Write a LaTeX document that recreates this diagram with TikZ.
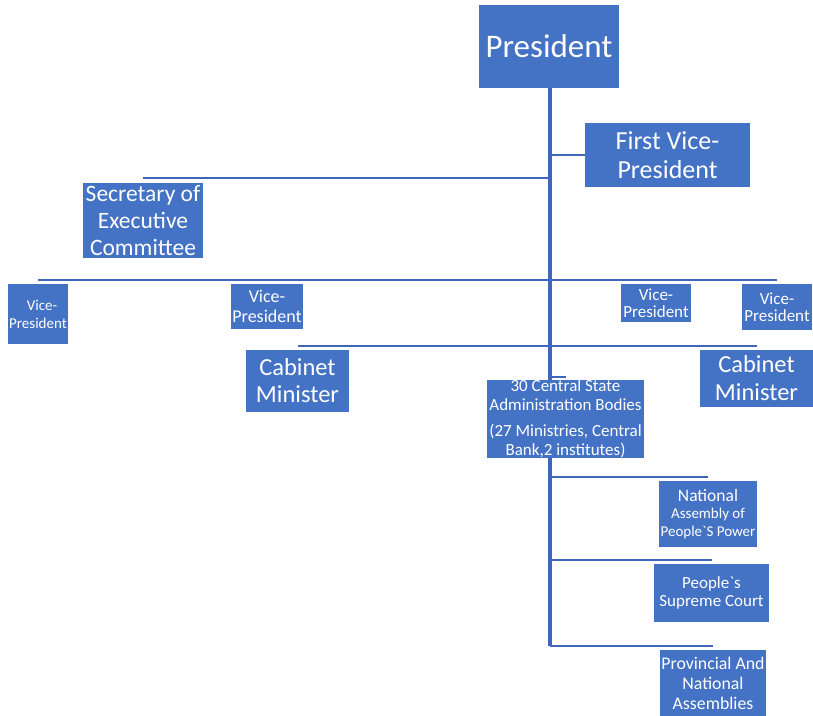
\documentclass[tikz,border=0pt]{standalone}
\usepackage{fontspec}
\setmainfont{Carlito}
\usetikzlibrary{backgrounds}
\definecolor{orgblue}{HTML}{4472C4}
\definecolor{linkblue}{HTML}{3F66BA}
\newcommand{\fs}[2]{\fontsize{#1}{#2}\selectfont}

\begin{document}
\begin{tikzpicture}[x=1pt,y=-1pt,
  box/.style={fill=orgblue, text=white, align=center, inner sep=0pt},
  link/.style={draw=linkblue, line width=2.6pt},
  trunk/.style={draw=linkblue, line width=3.2pt}]
\useasboundingbox (0,0) rectangle (813,715);

% boxes of the chart
\node[box, minimum width=140pt, minimum height=83pt, font=\fs{33}{36}] (pres) at (549,46.5) {President};
\node[box, minimum width=165pt, minimum height=64pt, font=\fs{26}{28.5}] (fvp) at (667.5,155) {First Vice-\\President};
\node[box, minimum width=120pt, minimum height=75pt, font=\fs{23.5}{27}] (sec) at (143,220.5) {Secretary of\\Executive\\Committee};
\node[box, minimum width=60pt, minimum height=60pt, font=\fs{15}{18}] (vpa) at (38,314) {\hspace*{8pt}Vice-\\President};
\node[box, minimum width=72pt, minimum height=45pt, font=\fs{18}{20}] (vpb) at (267,306.5) {Vice-\\President};
\node[box, minimum width=70pt, minimum height=38pt, font=\fs{17}{17}] (vpc) at (656,303) {Vice-\\President};
\node[box, minimum width=70pt, minimum height=46pt, font=\fs{17}{17.5}] (vpd) at (777,307) {Vice-\\President};
\node[box, minimum width=103pt, minimum height=62pt, font=\fs{24.5}{27}] (caba) at (297.5,381) {Cabinet\\Minister};
\node[box, minimum width=113pt, minimum height=57pt, font=\fs{24.5}{28}] (cabb) at (756.5,378.5) {Cabinet\\Minister};
\node[box, minimum width=157pt, minimum height=78pt, font=\fs{17}{19}] (csab) at (565.5,419) {30 Central State\\Administration Bodies\\[7pt](27 Ministries, Central\\Bank,2 institutes)};
\node[box, minimum width=98pt, minimum height=66pt, font=\fs{15}{17.5}] (napp) at (708,514)
  {{\fs{17.5}{18}National}\\Assembly of\\People\textasciigrave S Power};
\node[box, minimum width=115pt, minimum height=58pt, font=\fs{17}{18}] (psc) at (711.5,593) {People\textasciigrave s\\Supreme Court};
\node[box, minimum width=106pt, minimum height=66pt, font=\fs{17.8}{20}] (prov) at (713,683) {Provincial And\\National\\Assemblies};

% junctions on the main line
\coordinate (jfvp) at (550,155);
\coordinate (jsec) at (550,178);
\coordinate (jvp) at (550,280);
\coordinate (jcab) at (550,346);
\coordinate (jcs) at (550,377);
\coordinate (jnap) at (550,477);
\coordinate (jpsc) at (550,560);
\coordinate (jprov) at (550,646);

\begin{scope}[on background layer]
  \draw[trunk] (pres.south -| jfvp) -- (jprov);
  \draw[link] (jfvp) -- (fvp.west);
  \draw[link] (jsec) -- (sec.north |- jsec);
  \draw[link] (vpa.north |- jvp) -- (vpd.north |- jvp);
  \draw[link] (caba.north |- jcab) -- (cabb.north |- jcab);
  \draw[link] (jcs) -- (csab.north |- jcs);
  \draw[link] (jnap) -- (napp.north |- jnap);
  \draw[link] (jpsc) -- (psc.north |- jpsc);
  \draw[link] (jprov) -- (prov.north |- jprov);
\end{scope}
\end{tikzpicture}
\end{document}
